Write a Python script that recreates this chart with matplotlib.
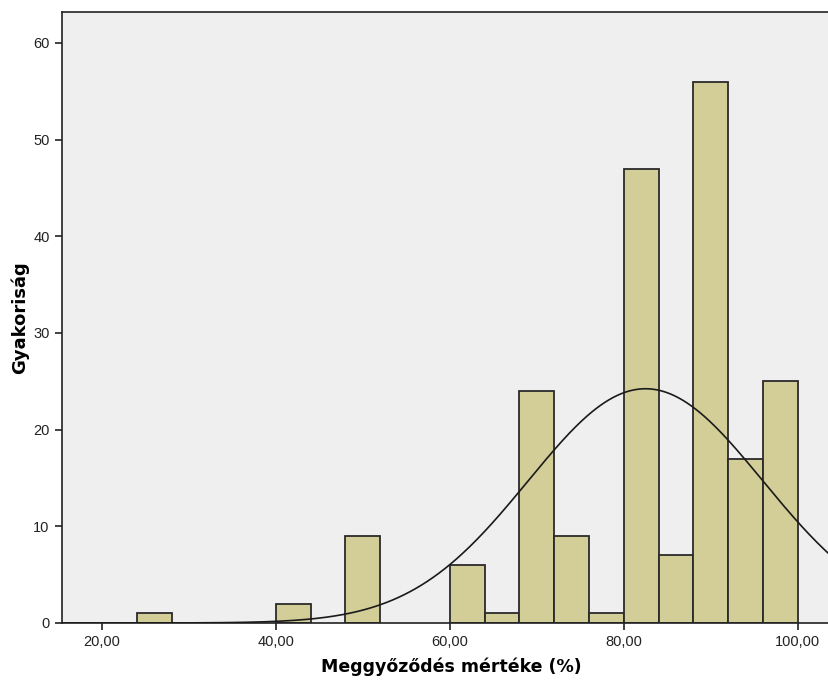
import numpy as np
import matplotlib.pyplot as plt

plt.rcParams['font.family'] = ['Liberation Sans', 'DejaVu Sans']

# histogram bins (left edges, width 4) and counts
bin_left = [24, 40, 48, 60, 64, 68, 72, 76, 80, 84, 88, 92, 96]
counts = [1, 2, 9, 6, 1, 24, 9, 1, 47, 7, 56, 17, 25]
bin_width = 4

# fitted normal curve parameters
mean = 82.5
sd = 13.5

x_ticks = [20, 40, 60, 80, 100]
x_ticklabels = ['20,00', '40,00', '60,00', '80,00', '100,00']
y_ticks = [0, 10, 20, 30, 40, 50, 60]

fig = plt.figure(figsize=(8.29, 6.82), dpi=100)
ax = fig.add_axes([62 / 829, 1 - 623 / 682, 1 - 62 / 829, (623 - 12) / 682])
ax.set_facecolor('#efefef')

ax.bar(bin_left, counts, width=bin_width, align='edge', color='#d3ce97',
       edgecolor='#2a2a2a', linewidth=1.3, zorder=2)

n = sum(counts)
xs = np.linspace(10, 110, 600)
ys = n * bin_width / (sd * np.sqrt(2 * np.pi)) * np.exp(-0.5 * ((xs - mean) / sd) ** 2)
ax.plot(xs, ys, color='#1a1a1a', linewidth=1.2, zorder=3)

ax.set_xlim(15.4, 103.6)
ax.set_ylim(0, 63.2)
ax.set_xticks(x_ticks)
ax.set_xticklabels(x_ticklabels)
ax.set_yticks(y_ticks)
ax.tick_params(axis='both', direction='out', length=5, width=1.2, labelsize=10.5,
               colors='#222222', pad=4)

ax.spines['right'].set_visible(False)
for s in ['left', 'top', 'bottom']:
    ax.spines[s].set_linewidth(1.2)
    ax.spines[s].set_color('#222222')

ax.set_xlabel('Meggyőződés mértéke (%)', fontsize=12.5, fontweight='bold',
              family='DejaVu Sans')
ax.xaxis.set_label_coords(0.508, -0.056)
ax.set_ylabel('Gyakoriság', fontsize=13, fontweight='bold',
              family='DejaVu Sans', labelpad=3)

fig.savefig('out.png', dpi=100)
